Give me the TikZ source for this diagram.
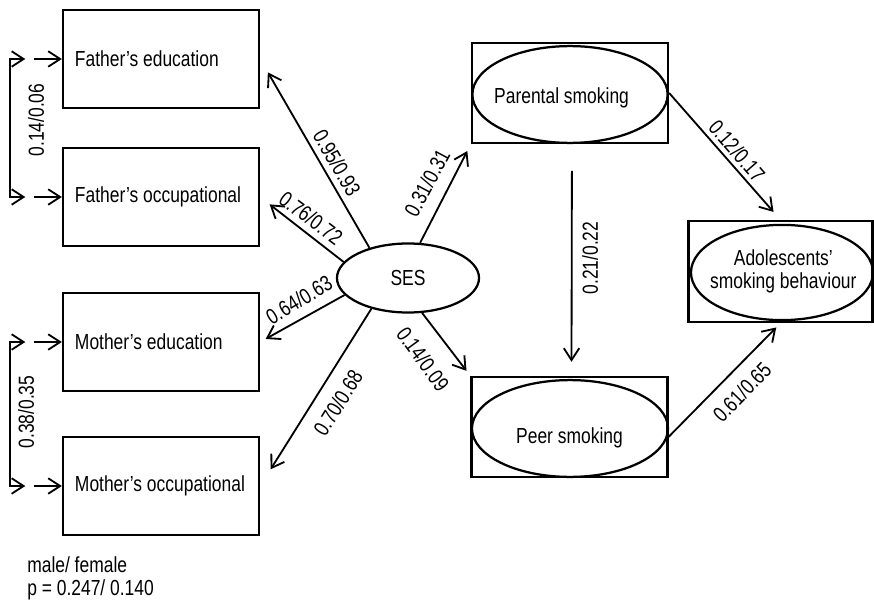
\documentclass[tikz,border=0pt]{standalone}
\usepackage{fontspec}
\setmainfont{Liberation Sans}[FakeStretch=0.8]
\usetikzlibrary{arrows.meta,shapes.geometric}
\tikzset{
  obs/.style={draw, line width=1.6pt, rectangle, minimum height=2.45cm, text width=4.3cm, inner xsep=0.3cm, inner ysep=0pt, align=flush left},
  outerbox/.style={draw, line width=1.6pt, rectangle, inner sep=0pt},
  latent/.style={draw, line width=1.6pt, ellipse, inner sep=0pt},
  barb/.tip={Straight Barb[length=8.5pt,width=11pt]},
  link/.style={line width=1.3pt, -barb},
  coef/.style={inner sep=0pt}
}
\begin{document}
\begin{tikzpicture}[x=0.025cm, y=-0.025cm, every node/.append style={font=\fontsize{15.5}{16.4}\selectfont}]
\useasboundingbox (0,0) rectangle (874,604);
% Indicators of SES
\node[obs] (fed) at (161,59) {Father's education};
\node[obs] (foc) at (161,197) {Father's occupational};
\node[obs] (med) at (161,342) {Mother's education};
\node[obs] (moc) at (161,486) {Mother's occupational};
% SES
\node[latent, minimum width=3.55cm, minimum height=1.725cm] (ses) at (408,278) {SES};
% Smoking variables
\node[outerbox, minimum width=4.9cm, minimum height=2.5cm,
  label={[xshift=-6pt, yshift=-3.5pt]center:Parental smoking}] (par) at (570,93) {};
\draw[line width=1.6pt] (570,94.5) ellipse [x radius=2.44cm, y radius=1.21cm];
\node[outerbox, minimum width=4.9cm, minimum height=2.5cm,
  label={[yshift=-8pt]center:Peer smoking}] (peer) at (569.5,427) {};
\draw[line width=1.6pt] (570,428.5) ellipse [x radius=2.45cm, y radius=1.21cm];
\node[outerbox, minimum width=4.6cm, minimum height=2.525cm,
  label={[align=center, xshift=2pt]center:Adolescents'\\smoking behaviour}] (ado) at (780.5,271.5) {};
\draw[line width=1.6pt] (782,272.5) ellipse [x radius=2.275cm, y radius=1.19cm];
% Error terms and correlations
\foreach \n in {fed,foc,med,moc}
  \draw[link] ([xshift=-20pt]\n.west) coordinate (e\n) -- (\n.west);
\draw[link, barb-barb] ([xshift=-6pt]efed) -- ++(-15,0) |- ([xshift=-6pt]efoc);
\draw[link, barb-barb] ([xshift=-6pt]emed) -- ++(-15,0) |- ([xshift=-6pt]emoc);
% Paths
\draw[link, shorten >=11pt] (ses.142) -- (fed.east);
\draw[link, shorten >=8.5pt] (ses.166) -- (foc.east);
\draw[link, shorten >=4.5pt] (ses.195) -- (med.east);
\draw[link, shorten >=14pt] (ses.220) -- (moc.east);
\draw[link, shorten >=5.5pt] (ses.71) -- (par.south west);
\draw[link, shorten >=4.5pt] (ses.-68) -- (peer.north west);
\draw[link, shorten <=19pt, shorten >=10pt] ([xshift=1.4pt]par.south) -- ([xshift=1.4pt]peer.north);
\draw[link, shorten >=7.5pt] (par.east) -- (ado.north);
\draw[link, shorten >=4.3pt] ([yshift=-7pt]peer.east) -- (ado.south);
% Labels
\node[coef, rotate=-60] (c1) at (337,163) {0.95/0.93};
\node[coef, rotate=-37] (c2) at (311,218) {0.76/0.72};
\node[coef, rotate=31] (c3) at (299,300) {0.64/0.63};
\node[coef, rotate=58] (c4) at (338,403) {0.70/0.68};
\node[coef, rotate=62] (c5) at (427,183) {0.31/0.31};
\node[coef, rotate=-54] (c6) at (423,359) {0.14/0.09};
\node[coef, rotate=90] (c7) at (590,258) {0.21/0.22};
\node[coef, rotate=-49] (c8) at (737,151) {0.12/0.17};
\node[coef, rotate=46] (c9) at (742,392) {0.61/0.65};
\node[coef, rotate=90] (c10) at (36,120) {0.14/0.06};
\node[coef, rotate=90] (c11) at (26,412) {0.38/0.35};
% Note
\node[anchor=west, align=left, inner sep=0pt] (note) at (27,578) {male/ female\\p = 0.247/ 0.140};
\end{tikzpicture}
\end{document}
